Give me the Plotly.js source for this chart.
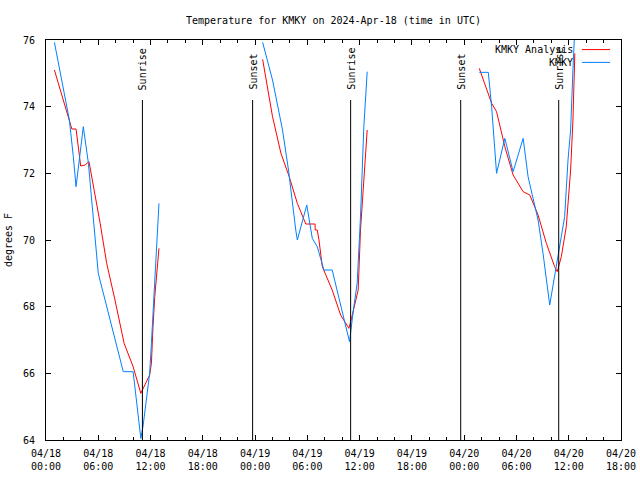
<!DOCTYPE html>
<html>
<head>
<meta charset="utf-8">
<script src="https://cdn.plot.ly/plotly-3.0.1.min.js"></script>
<style>html,body{margin:0;padding:0;background:#fff;}#chart{width:640px;height:480px;}</style>
</head>
<body>
<div id="chart"></div>
<script>
// KMKY Analysis (red)
const analysisTime = [
  '2024-04-18 00:58','2024-04-18 02:41','2024-04-18 02:58','2024-04-18 03:27','2024-04-18 03:47','2024-04-18 03:59',
  '2024-04-18 04:29','2024-04-18 04:56','2024-04-18 06:13','2024-04-18 06:58','2024-04-18 07:55','2024-04-18 08:58',
  '2024-04-18 10:00','2024-04-18 10:53','2024-04-18 11:54','2024-04-18 12:06','2024-04-18 12:17','2024-04-18 12:29','2024-04-18 12:58',
  '2024-04-18 18:00',
  '2024-04-19 00:52','2024-04-19 01:26','2024-04-19 02:00','2024-04-19 02:58','2024-04-19 03:55','2024-04-19 04:51',
  '2024-04-19 05:49','2024-04-19 06:53','2024-04-19 06:54','2024-04-19 07:08','2024-04-19 07:20','2024-04-19 07:43',
  '2024-04-19 08:51','2024-04-19 09:49','2024-04-19 10:46','2024-04-19 11:04','2024-04-19 11:27','2024-04-19 11:50',
  '2024-04-19 12:06','2024-04-19 12:35','2024-04-19 12:52',
  '2024-04-19 18:00',
  '2024-04-20 01:44','2024-04-20 03:09','2024-04-20 03:43','2024-04-20 04:40','2024-04-20 05:37','2024-04-20 06:46',
  '2024-04-20 07:32','2024-04-20 08:29','2024-04-20 09:26','2024-04-20 10:23','2024-04-20 10:41','2024-04-20 11:09',
  '2024-04-20 11:43','2024-04-20 12:13','2024-04-20 12:29','2024-04-20 12:42'
];
const analysisTemp = [
  75.1, 73.6, 73.33, 73.33, 72.65, 72.22,
  72.25, 72.35, 70.5, 69.3, 68.2, 66.9,
  66.2, 65.4, 65.95, 66.3, 67.4, 68.3, 69.75,
  null,
  75.42, 74.6, 73.7, 72.6, 71.9, 71.1,
  70.48, 70.48, 70.3, 70.3, 70.0, 69.2,
  68.5, 67.75, 67.35, 67.65, 68.1, 68.5,
  70.3, 72.1, 73.3,
  null,
  75.15, 74.1, 73.85, 72.8, 71.95, 71.45,
  71.35, 70.75, 69.9, 69.2, 69.05, 69.5,
  70.4, 72.1, 73.6, 75.6
];

// KMKY observations (blue)
const obsTime = [
  '2024-04-18 00:58','2024-04-18 02:41','2024-04-18 03:08','2024-04-18 03:27','2024-04-18 04:17','2024-04-18 04:52',
  '2024-04-18 06:00','2024-04-18 08:52','2024-04-18 10:00','2024-04-18 10:53','2024-04-18 11:08','2024-04-18 11:54',
  '2024-04-18 12:06','2024-04-18 12:29','2024-04-18 12:40','2024-04-18 12:58',
  '2024-04-18 18:00',
  '2024-04-19 00:52','2024-04-19 02:00','2024-04-19 03:09','2024-04-19 03:50','2024-04-19 04:40','2024-04-19 04:51',
  '2024-04-19 05:56','2024-04-19 06:34','2024-04-19 07:08','2024-04-19 07:54','2024-04-19 08:51','2024-04-19 10:50',
  '2024-04-19 11:20','2024-04-19 11:43','2024-04-19 12:06','2024-04-19 12:29','2024-04-19 12:52',
  '2024-04-19 18:00',
  '2024-04-20 01:44','2024-04-20 02:46','2024-04-20 03:09','2024-04-20 03:20','2024-04-20 03:43','2024-04-20 04:40',
  '2024-04-20 05:37','2024-04-20 06:46','2024-04-20 07:20','2024-04-20 08:29','2024-04-20 09:03','2024-04-20 09:49',
  '2024-04-20 10:23','2024-04-20 10:46','2024-04-20 11:32','2024-04-20 11:55','2024-04-20 12:13','2024-04-20 12:29','2024-04-20 12:40'
];
const obsTemp = [
  75.93, 73.6, 72.5, 71.6, 73.4, 72.3,
  69.0, 66.05, 66.05, 64.05, 64.4, 66.0,
  66.9, 68.6, 69.7, 71.1,
  null,
  75.93, 74.8, 73.3, 72.1, 70.3, 70.0,
  71.05, 70.05, 69.8, 69.1, 69.1, 66.95,
  68.0, 68.7, 70.7, 73.4, 75.05,
  null,
  75.03, 75.03, 74.0, 73.3, 72.0, 73.05,
  72.05, 73.05, 71.9, 70.6, 69.6, 68.05,
  68.9, 69.5, 70.7, 72.4, 73.3, 75.1, 76.2
];

const seriesNames = ['KMKY Analysis', 'KMKY'];
const seriesColors = ['#ff0000', '#0080ff'];

// Sunrise / sunset markers
const sunEventTime = ['2024-04-18 11:04','2024-04-18 23:43','2024-04-19 10:58','2024-04-19 23:36','2024-04-20 10:51'];
const sunEventLabel = ['Sunrise','Sunset','Sunrise','Sunset','Sunrise'];

// Axis ticks
const xTickVals = ['2024-04-18 00:00','2024-04-18 06:00','2024-04-18 12:00','2024-04-18 18:00',
  '2024-04-19 00:00','2024-04-19 06:00','2024-04-19 12:00','2024-04-19 18:00',
  '2024-04-20 00:00','2024-04-20 06:00','2024-04-20 12:00','2024-04-20 18:00'];
const xTickText = ['04/18<br>00:00','04/18<br>06:00','04/18<br>12:00','04/18<br>18:00',
  '04/19<br>00:00','04/19<br>06:00','04/19<br>12:00','04/19<br>18:00',
  '04/20<br>00:00','04/20<br>06:00','04/20<br>12:00','04/20<br>18:00'];
const xMinorTickVals = ['2024-04-18 02:00','2024-04-18 04:00','2024-04-18 08:00','2024-04-18 10:00',
  '2024-04-18 14:00','2024-04-18 16:00','2024-04-18 20:00','2024-04-18 22:00',
  '2024-04-19 02:00','2024-04-19 04:00','2024-04-19 08:00','2024-04-19 10:00',
  '2024-04-19 14:00','2024-04-19 16:00','2024-04-19 20:00','2024-04-19 22:00',
  '2024-04-20 02:00','2024-04-20 04:00','2024-04-20 08:00','2024-04-20 10:00',
  '2024-04-20 14:00','2024-04-20 16:00'];
const yTickVals = [64, 66, 68, 70, 72, 74, 76];

const FONT = 'DejaVu Sans Mono, Liberation Mono, monospace';
const X_RANGE = ['2024-04-18 00:00', '2024-04-20 18:00'];

const traces = [
  {x: analysisTime, y: analysisTemp, name: seriesNames[0], type: 'scatter', mode: 'lines',
   line: {color: seriesColors[0], width: 1}, connectgaps: false},
  {x: obsTime, y: obsTemp, name: seriesNames[1], type: 'scatter', mode: 'lines',
   line: {color: seriesColors[1], width: 1}, connectgaps: false}
];

const shapes = [];
const annotations = [];
sunEventTime.forEach((t, i) => {
  shapes.push({type: 'line', xref: 'x', yref: 'y', x0: t, x1: t, y0: 64, y1: 74.2,
    line: {color: 'black', width: 1}});
  annotations.push({xref: 'x', yref: 'y', x: t, y: 74.44, text: sunEventLabel[i], textangle: -90,
    showarrow: false, xanchor: 'center', yanchor: 'bottom', font: {family: FONT, size: 10, color: 'black'}});
});

// gnuplot-style legend (text right-aligned, sample line to its right)
const legY = [0.976, 0.944];
seriesNames.forEach((n, i) => {
  annotations.push({xref: 'paper', yref: 'paper', x: 0.9195, y: legY[i], text: n, showarrow: false,
    xanchor: 'right', yanchor: 'middle', font: {family: FONT, size: 10, color: 'black'}});
  shapes.push({type: 'line', xref: 'paper', yref: 'paper', x0: 0.932, x1: 0.981, y0: legY[i], y1: legY[i],
    line: {color: seriesColors[i], width: 1}});
});

const layout = {
  width: 640, height: 480,
  margin: {l: 46, r: 19, t: 40, b: 40, pad: 0},
  paper_bgcolor: 'white', plot_bgcolor: 'white',
  showlegend: false,
  font: {family: FONT, size: 10, color: 'black'},
  title: {text: 'Temperature for KMKY on 2024-Apr-18 (time in UTC)', x: 0.5, xref: 'paper',
    y: 0.958, yref: 'container', yanchor: 'middle', font: {family: FONT, size: 10, color: 'black'}},
  xaxis: {
    type: 'date', range: X_RANGE,
    tickmode: 'array', tickvals: xTickVals, ticktext: xTickText,
    ticks: 'inside', ticklen: 5, tickcolor: 'black', tickwidth: 1, ticklabelstandoff: 4,
    minor: {tickmode: 'array', tickvals: xMinorTickVals, ticks: 'inside', ticklen: 3, tickcolor: 'black', tickwidth: 1, showgrid: false},
    showline: true, linecolor: 'black', linewidth: 1, mirror: 'allticks',
    showgrid: false, zeroline: false, fixedrange: true,
    tickfont: {family: FONT, size: 10, color: 'black'}
  },
  yaxis: {
    range: [64, 76], tickmode: 'array', tickvals: yTickVals,
    ticks: 'inside', ticklen: 5, tickcolor: 'black', tickwidth: 1, ticklabelstandoff: 8,
    showline: true, linecolor: 'black', linewidth: 1, mirror: 'allticks',
    showgrid: false, zeroline: false, fixedrange: true,
    tickfont: {family: FONT, size: 10, color: 'black'},
    title: {text: 'degrees F', standoff: 8, font: {family: FONT, size: 10, color: 'black'}}
  },
  shapes: shapes,
  annotations: annotations
};

Plotly.newPlot('chart', traces, layout, {displayModeBar: false, staticPlot: true});
</script>
</body>
</html>
